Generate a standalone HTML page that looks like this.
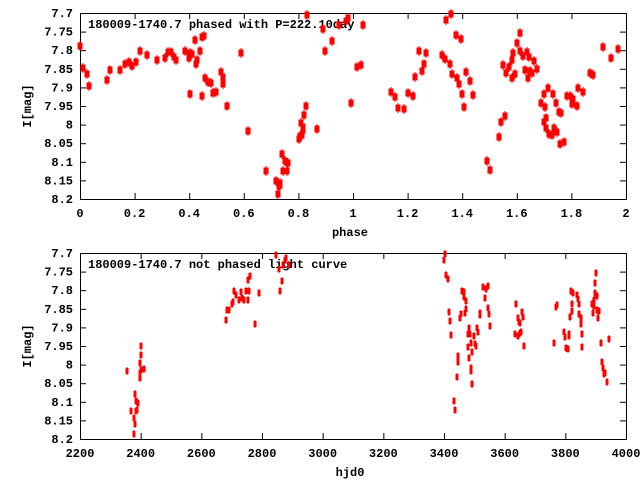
<!DOCTYPE html>
<html><head><style>
body{margin:0;background:#fff;}
svg text{font-family:"Liberation Mono","DejaVu Sans Mono",monospace;font-weight:bold;font-size:12px;fill:#000;}
</style></head><body>
<svg id="s" width="640" height="480" xmlns="http://www.w3.org/2000/svg"></svg>
<script>
const S=document.getElementById('s');let h='';
function frame(top,bot,xt,xl){
 h+=`<rect x="80.5" y="${top+.5}" width="546" height="${bot-top}" fill="none" stroke="#000"/>`;
 for(let i=0;i<=10;i++){const y=top+(bot-top)*i/10;const v=(7.7+0.05*i);let s=v.toFixed(2).replace(/0+$/,'').replace(/\.$/,'');
  h+=`<line x1="80" x2="86" y1="${y+.5}" y2="${y+.5}" stroke="#000"/><line x1="620" x2="626" y1="${y+.5}" y2="${y+.5}" stroke="#000"/>`;
  h+=`<text x="73" y="${y+4}" text-anchor="end">${s}</text>`;}
 xt.forEach((t,i)=>{const x=80+546*i/(xt.length-1);
  h+=`<line x1="${x+.5}" x2="${x+.5}" y1="${top}" y2="${top+6}" stroke="#000"/><line x1="${x+.5}" x2="${x+.5}" y1="${bot-6}" y2="${bot}" stroke="#000"/>`;
  h+=`<text x="${x}" y="${bot+18}" text-anchor="middle">${t}</text>`;});
 h+=`<text x="350" y="${bot+37}" text-anchor="middle">${xl}</text>`;
 h+=`<text transform="translate(31,${(top+bot)/2}) rotate(-90)" text-anchor="middle">I[mag]</text>`;
}
frame(13,199,['0','0.2','0.4','0.6','0.8','1','1.2','1.4','1.6','1.8','2'],'phase');
frame(253,439,['2200','2400','2600','2800','3000','3200','3400','3600','3800','4000'],'hjd0');
h+=`<text x="88" y="28">180009-1740.7 phased with P=222.10day</text>`;
h+=`<text x="88" y="268">180009-1740.7 not phased light curve</text>`;
const A=[[80,46],[83,68],[87,74],[89,86],[107,80],[110,70],[120,70],[125,64],[129,62],[132,66],[136,62],[140,51],[147,55],[157,60],[165,58],[168,52],[171,52],[174,57],[176,60],[185,51],[189,58],[190,53],[190,94],[192,54],[195,40],[196,64],[197,60],[200,51],[202,37],[204,36],[202,96],[205,78],[208,82],[211,83],[213,93],[216,92],[221,72],[223,77],[223,84],[227,106],[241,53],[248,131],[266,171],[276,181],[278,194],[279,186],[280,185],[280,183],[282,154],[283,171],[285,161],[287,171],[288,163],[299,139],[301,123],[303,130],[304,115],[306,106],[302,135],[300,136],[303,127],[307,15],[317,129],[323,29],[332,41],[325,51],[339,25],[346,21],[348,18],[363,25],[351,103],[357,67],[361,65],
[391,92],[395,97],[398,108],[404,109],[408,93],[413,96],[415,77],[419,51],[422,71],[424,64],[426,53],[442,55],[445,59],[446,20],[450,64],[451,14],[452,74],[456,35],[457,78],[459,84],[461,39],[462,94],[464,107],[466,72],[470,81],[473,95],[487,161],[490,170],[499,137],[501,122],[505,116],[503,65],[506,73],[509,67],[512,78],[512,60],[513,53],[515,74],[517,43],[520,33],[520,51],[523,56],[525,70],[527,52],[528,78],[529,57],[530,71],[532,73],[534,61],[537,69],[541,103],[544,94],[545,107],[544,122],[546,118],[546,128],[548,88],[549,134],[552,135],[553,94],[554,128],[556,103],[557,132],[559,112],[561,113],[560,144],[564,142],[567,96],[570,96],[572,104],[573,99],[577,106],[578,88],[583,92],[590,73],[593,75],[603,47],[611,58],[618,49]];
A.forEach(([x,y])=>{h+=`<rect x="${x-2.5}" y="${y-3.5}" width="5" height="7" fill="#f00"/><rect x="${x-0.5}" y="${y-5}" width="1" height="10" fill="#f00"/>`;});
const B=[[127,371],[131,411],[135,394],[134,418],[135,424],[134,434],[136,401],[137,410],[138,403],[136,411],[140,363],[141,355],[141,346],[140,373],[140,378],[141,370],[144,369],[226,320],[227,310],[229,310],[232,304],[233,302],[234,291],[236,295],[239,300],[241,292],[242,298],[244,300],[246,291],[248,300],[248,280],[250,276],[249,291],[255,324],[259,293],[276,255],[279,269],[280,291],[282,281],[283,265],[285,260],[286,258],[289,265],
[444,260],[445,254],[446,275],[448,279],[449,312],[450,321],[451,335],[454,401],[455,410],[457,377],[458,362],[458,356],[460,318],[461,314],[462,291],[464,292],[464,297],[465,313],[466,301],[466,309],[468,334],[468,347],[469,328],[469,358],[470,334],[471,343],[471,368],[471,371],[472,352],[472,384],[474,336],[475,344],[476,346],[477,328],[478,332],[480,313],[480,315],[483,287],[485,298],[486,289],[488,286],[488,308],[489,314],[490,326],[515,334],[516,304],[518,318],[518,336],[519,322],[520,323],[520,333],[521,332],[522,312],[523,317],[524,346],[554,343],[556,307],[557,305],[564,332],[565,337],[566,348],[568,349],[569,334],[569,336],[570,317],[571,291],[572,311],[572,304],[573,293],[577,295],[578,299],[579,304],[579,314],[581,318],[581,324],[582,334],[582,347],[592,304],[593,313],[594,300],[594,306],[595,283],[595,293],[596,273],[597,296],[597,310],[598,318],[599,311],[601,343],[602,362],[603,368],[604,374],[605,373],[607,382],[609,339]];
B.forEach(([x,y])=>{h+=`<rect x="${x-1.5}" y="${y-3}" width="3" height="6" fill="#f00"/><rect x="${x-0.5}" y="${y-4}" width="1" height="8" fill="#f00"/>`;});
S.innerHTML=h;
</script>
</body></html>
